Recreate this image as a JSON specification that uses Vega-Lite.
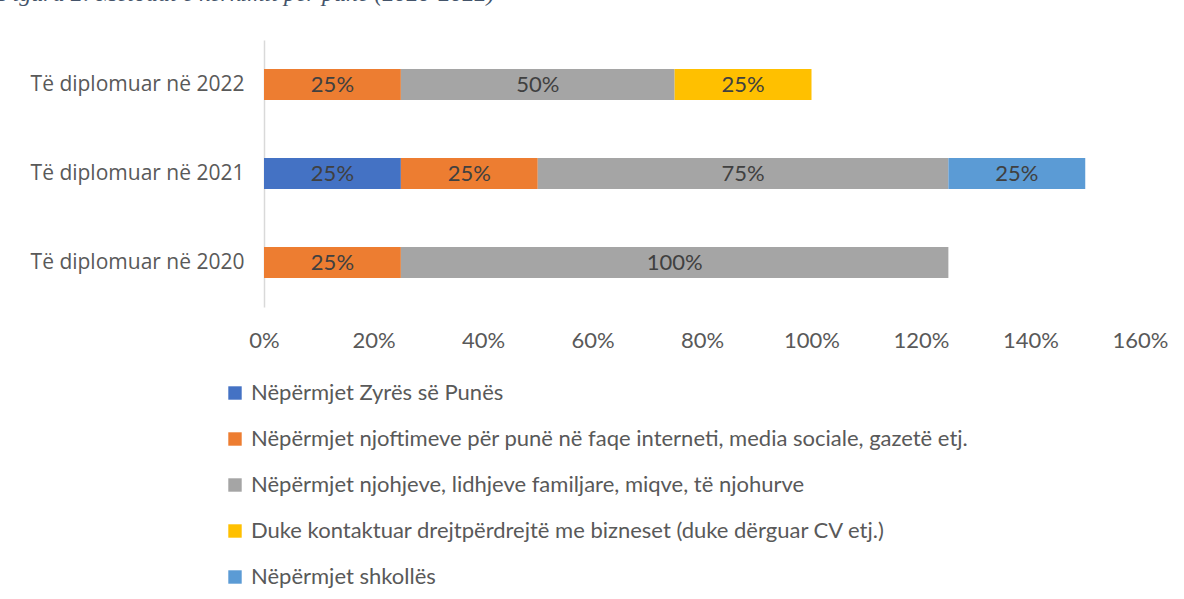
{
  "$schema": "https://vega.github.io/schema/vega-lite/v6.json",
  "autosize": {"type": "none"},
  "width": 876,
  "height": 267,
  "padding": {"left": 264, "top": 40, "right": 44, "bottom": 292},
  "background": "white",
  "title": {
    "text": "Figura 2: Metodat e kërkimit për punë (2020-2022)",
    "anchor": "start",
    "frame": "group",
    "orient": "top",
    "offset": 34,
    "dx": -266,
    "font": "Liberation Serif",
    "fontStyle": "italic",
    "fontWeight": "normal",
    "fontSize": 24,
    "color": "#44546A"
  },
  "data": {
    "values": [
      {"group": "Të diplomuar në 2022", "method": "Nëpërmjet njoftimeve për punë në faqe interneti, media sociale, gazetë etj.", "order": 2, "value": 0.25},
      {"group": "Të diplomuar në 2022", "method": "Nëpërmjet njohjeve, lidhjeve familjare, miqve, të njohurve", "order": 3, "value": 0.5},
      {"group": "Të diplomuar në 2022", "method": "Duke kontaktuar drejtpërdrejtë me bizneset (duke dërguar CV etj.)", "order": 4, "value": 0.25},
      {"group": "Të diplomuar në 2021", "method": "Nëpërmjet Zyrës së Punës", "order": 1, "value": 0.25},
      {"group": "Të diplomuar në 2021", "method": "Nëpërmjet njoftimeve për punë në faqe interneti, media sociale, gazetë etj.", "order": 2, "value": 0.25},
      {"group": "Të diplomuar në 2021", "method": "Nëpërmjet njohjeve, lidhjeve familjare, miqve, të njohurve", "order": 3, "value": 0.75},
      {"group": "Të diplomuar në 2021", "method": "Nëpërmjet shkollës", "order": 5, "value": 0.25},
      {"group": "Të diplomuar në 2020", "method": "Nëpërmjet njoftimeve për punë në faqe interneti, media sociale, gazetë etj.", "order": 2, "value": 0.25},
      {"group": "Të diplomuar në 2020", "method": "Nëpërmjet njohjeve, lidhjeve familjare, miqve, të njohurve", "order": 3, "value": 1.0}
    ]
  },
  "transform": [
    {"stack": "value", "groupby": ["group"], "sort": [{"field": "order", "order": "ascending"}], "as": ["x0", "x1"]},
    {"calculate": "(datum.x0 + datum.x1) / 2", "as": "mid"}
  ],
  "encoding": {
    "y": {
      "field": "group",
      "type": "nominal",
      "sort": ["Të diplomuar në 2022", "Të diplomuar në 2021", "Të diplomuar në 2020"],
      "scale": {"paddingInner": 0.65, "paddingOuter": 0.325},
      "axis": {
        "title": null,
        "ticks": false,
        "domain": true,
        "domainColor": "#D9D9D9",
        "domainWidth": 1.5,
        "labelFont": "Open Sans",
        "labelFontSize": 21,
        "labelColor": "#595959",
        "labelPadding": 20,
        "labelLimit": 0,
        "grid": false
      }
    }
  },
  "layer": [
    {
      "mark": {"type": "bar"},
      "encoding": {
        "x": {
          "field": "x0",
          "type": "quantitative",
          "scale": {"domain": [0, 1.6], "nice": false},
          "axis": {
            "title": null,
            "format": ".0%",
            "values": [0, 0.2, 0.4, 0.6, 0.8, 1.0, 1.2, 1.4, 1.6],
            "grid": false,
            "domain": false,
            "ticks": false,
            "labelFlush": false,
            "labelFont": "Lato",
            "labelFontSize": 22,
            "labelColor": "#595959",
            "labelPadding": 23,
            "labelBaseline": "top"
          }
        },
        "x2": {"field": "x1"},
        "color": {
          "field": "method",
          "type": "nominal",
          "scale": {
            "domain": [
              "Nëpërmjet Zyrës së Punës",
              "Nëpërmjet njoftimeve për punë në faqe interneti, media sociale, gazetë etj.",
              "Nëpërmjet njohjeve, lidhjeve familjare, miqve, të njohurve",
              "Duke kontaktuar drejtpërdrejtë me bizneset (duke dërguar CV etj.)",
              "Nëpërmjet shkollës"
            ],
            "range": ["#4472C4", "#ED7D31", "#A5A5A5", "#FFC000", "#5B9BD5"]
          },
          "legend": {
            "orient": "none",
            "legendX": -40,
            "legendY": 342,
            "direction": "vertical",
            "columns": 1,
            "title": null,
            "symbolType": "square",
            "symbolSize": 180,
            "symbolStrokeWidth": 0,
            "labelFont": "Lato",
            "labelFontSize": 22,
            "labelColor": "#595959",
            "labelOffset": 5,
            "labelLimit": 0,
            "rowPadding": 24
          }
        }
      }
    },
    {
      "mark": {"type": "text", "font": "Lato", "fontSize": 22, "color": "#404040", "baseline": "middle", "align": "center"},
      "encoding": {
        "x": {"field": "mid", "type": "quantitative"},
        "text": {"field": "value", "type": "quantitative", "format": ".0%"}
      }
    }
  ],
  "config": {"view": {"stroke": null}}
}
